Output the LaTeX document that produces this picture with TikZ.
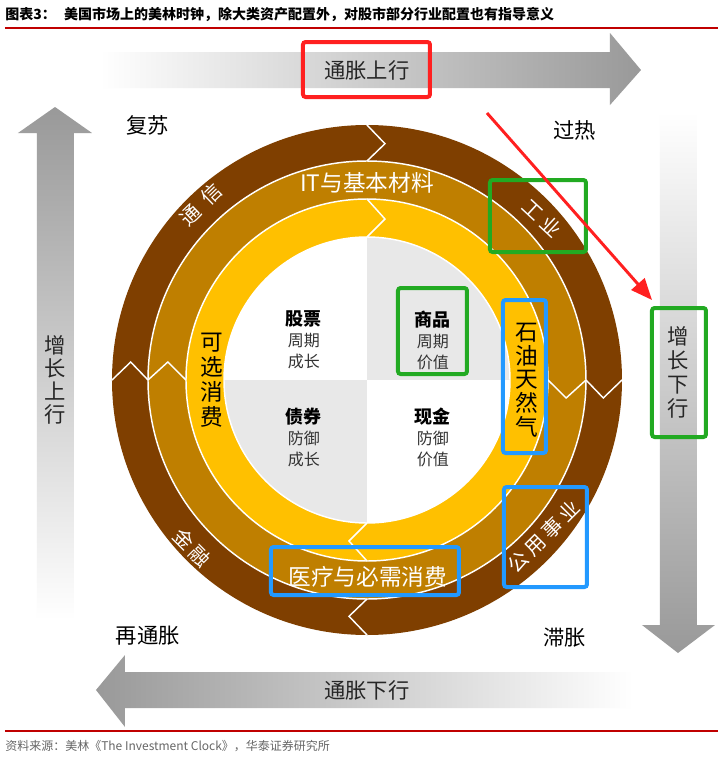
\documentclass[tikz,border=0pt]{standalone}
\usepackage{fontspec}
\setmainfont{Noto Sans CJK SC}
\usetikzlibrary{arrows.meta}
\definecolor{Umber}{HTML}{7F3F00}
\definecolor{Ochre}{HTML}{BF7F00}
\definecolor{Amber}{HTML}{FFC000}
\definecolor{Pale}{HTML}{E8E8E8}
\definecolor{ArrowGray}{HTML}{999999}
\definecolor{MarkRed}{HTML}{FF2020}
\definecolor{MarkGreen}{HTML}{22AA22}
\definecolor{MarkBlue}{HTML}{2299FF}
\definecolor{RuleRed}{HTML}{C00000}
\definecolor{Note}{HTML}{666666}

\begin{document}
\begin{tikzpicture}[
  x=0.75pt,y=0.75pt,
  phase/.style={font=\fontsize{16}{18}\selectfont},
  asset/.style={align=center,text=black!80,font=\fontsize{12}{15.75}\selectfont},
  sector/.style={text=white,font=\fontsize{15}{18}\selectfont},
  upright/.style={align=center,font=\fontsize{17}{18.75}\selectfont},
  flow/.style={align=center,text=black!85,font=\fontsize{16}{17.25}\selectfont},
  hlbox/.style={line width=3pt,rounded corners=2pt},
  seam/.style={white,line width=1.1pt}
]
\fill[white] (-367,380) rectangle (356,-378);
\useasboundingbox (-367,380) rectangle (356,-378);

\node[anchor=west,inner sep=0,font=\bfseries\fontsize{10.5}{12}\selectfont] (title) at (-362,366) {图表3：\hspace{0.6em}美国市场上的美林时钟，除大类资产配置外，对股市部分行业配置也有指导意义};
\draw[RuleRed,line width=0.9pt] (-362,352) -- (351,352);
\draw[RuleRed,line width=0.9pt] (-362,-351) -- (351,-351);
\node[anchor=west,inner sep=0,text=Note,font=\fontsize{9}{11}\selectfont] (source) at (-362,-366) {资料来源：美林《The Investment Clock》，华泰证券研究所};

\shade[left color=white,right color=ArrowGray] (-267,292) -- (243,292) -- (243,275) -- (274,310) -- (243,347) -- (243,328) -- (-267,328) -- cycle;
\shade[left color=ArrowGray,right color=white] (266,-292) -- (-242,-292) -- (-242,-275) -- (-271,-310) -- (-242,-347) -- (-242,-328) -- (266,-328) -- cycle;
\shade[top color=ArrowGray,bottom color=white] (-330,-240) -- (-330,247) -- (-349,247) -- (-312,273) -- (-275,247) -- (-293,247) -- (-293,-240) -- cycle;
\shade[top color=white,bottom color=ArrowGray] (293,268) -- (293,-245) -- (275,-245) -- (311,-273) -- (348,-245) -- (330,-245) -- (330,268) -- cycle;

\node[flow] (influp) at (0,310) {通胀上行};
\node[flow] (infldown) at (0,-310) {通胀下行};
\node[flow] (growup) at (-312,0) {增\\长\\上\\行};
\node[flow,font=\fontsize{16}{18}\selectfont] (growdown) at (311,8) {增\\长\\下\\行};

\fill[Umber] (0,0) circle (255);
\fill[Ochre] (0,0) circle (219);
\fill[Amber] (0,0) circle (181);
\fill[white] (0,0) circle (143);
\begin{scope}
  \clip (0,0) circle (143);
  \fill[Pale] (0,0) rectangle (150,150);
  \fill[Pale] (0,0) rectangle (-150,-150);
\end{scope}
\draw[seam] (0,0) circle (219) (0,0) circle (181) (0,0) circle (143);
\foreach \a in {90,0,-90,180}
  \draw[seam] (\a:255) -- ({\a-4.35}:237) -- (\a:219);
\foreach \a in {0,180}
  \draw[seam] (\a:219) -- ({\a-5.16}:200) -- (\a:181);
\foreach \a in {90,270}
  \draw[seam] (\a:181) -- ({\a-6.37}:162) -- (\a:143);

\node[asset] (stock) at (-63,40) {{\bfseries\fontsize{13.5}{15.75}\selectfont\color{black}股票}\\周期\\成长};
\node[asset] (commodity) at (66,40) {{\bfseries\fontsize{13.5}{15.75}\selectfont\color{black}商品}\\周期\\价值};
\node[asset] (bond) at (-63,-57) {{\bfseries\fontsize{13.5}{15.75}\selectfont\color{black}债券}\\防御\\成长};
\node[asset] (cash) at (66,-57) {{\bfseries\fontsize{13.5}{15.75}\selectfont\color{black}现金}\\防御\\价值};

\node[sector,font=\fontsize{17}{20}\selectfont] (itmat) at (0,197) {IT与基本材料};
\node[sector,font=\fontsize{17}{20}\selectfont] (health) at (1,-197) {医疗与必需消费};
\node[sector,rotate=44] (telecom) at (-166,175) {通\hspace{0.5em}信};
\node[sector,rotate=-43] (industry) at (175,162) {工\hspace{0.25em}业};
\node[sector,rotate=45] (utility) at (177,-157) {公\hspace{0.2em}用\hspace{0.2em}事\hspace{0.2em}业};
\node[sector,rotate=-45] (finance) at (-175,-168) {金\hspace{0.2em}融};
\node[upright] (discretion) at (-155,0) {可\\选\\消\\费};
\node[upright,font=\fontsize{17}{17.8}\selectfont] (oilgas) at (160,0) {石\\油\\天\\然\\气};

\node[phase] (recovery) at (-219,255) {复苏};
\node[phase] (overheat) at (208,250) {过热};
\node[phase] (reflation) at (-219,-256) {再通胀};
\node[phase] (stagflation) at (198,-258) {滞胀};

\draw[hlbox,MarkRed] (-64,338) rectangle (63,283);
\draw[hlbox,MarkGreen] (285,72) rectangle (339,-57);
\draw[hlbox,MarkGreen] (123,200) rectangle (219,128);
\draw[hlbox,MarkGreen] (31,92) rectangle (100,6);
\draw[hlbox,MarkBlue] (136,80) rectangle (179,-73);
\draw[hlbox,MarkBlue] (137,-107) rectangle (220,-207);
\draw[hlbox,MarkBlue] (-96,-167) rectangle (92,-215);

\coordinate (redtail) at (120,267);
\coordinate (redtip) at (285,80);
\draw[MarkRed,line width=2.2pt,-{Triangle[length=16pt,width=13pt]}] (redtail) -- (redtip);
\end{tikzpicture}
\end{document}
